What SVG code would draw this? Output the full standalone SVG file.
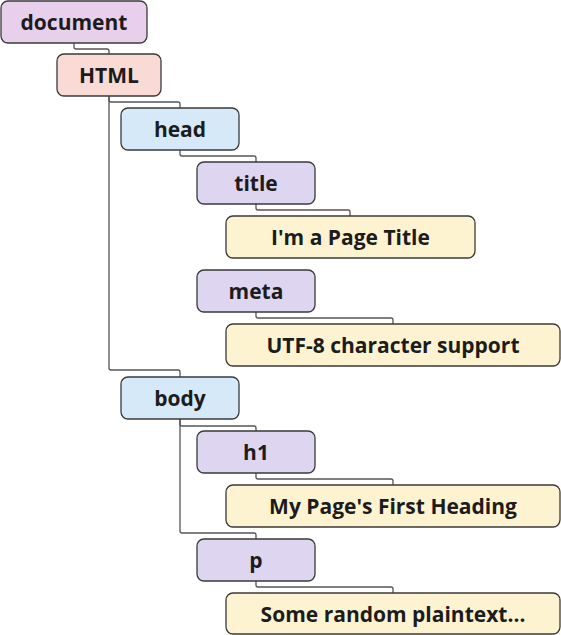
<svg xmlns="http://www.w3.org/2000/svg" width="561" height="635" viewBox="0 0 561 635">
<style>
.box{stroke:#3a3a3a;stroke-width:1.3}
.doc{fill:#E8D0EC}
.html{fill:#FADAD5}
.sec{fill:#D6E9F9}
.el{fill:#DED5F0}
.txt{fill:#FEF3D0}
text{font-family:"Open Sans","Noto Sans",sans-serif;font-weight:700;font-size:21px;fill:#1c1c1c;text-anchor:middle}
.conn path{fill:none;stroke:#555;stroke-width:1.3}
</style>
<rect width="561" height="635" fill="#fff"/>
<g class="conn">
<path d="M74 43 V47 Q74 49 76 49 H107 Q109 49 109 51 V54"/>
<path d="M109 96 V100 Q109 102 111 102 H178 Q180 102 180 104 V108"/>
<path d="M109 96 V368 Q109 370 111 370 H178 Q180 370 180 372 V377"/>
<path d="M180 150 V154 Q180 156 182 156 H254 Q256 156 256 158 V162"/>
<path d="M256 204 V208 Q256 210 258 210 H348 Q350 210 350 212 V216"/>
<path d="M256 312 V316 Q256 318 258 318 H391 Q393 318 393 320 V324"/>
<path d="M180 419 V424 Q180 426 182 426 H254 Q256 426 256 428 V431"/>
<path d="M180 419 V531 Q180 533 182 533 H254 Q256 533 256 535 V539"/>
<path d="M256 473 V477 Q256 479 258 479 H391 Q393 479 393 481 V485"/>
<path d="M256 581 V585 Q256 587 258 587 H391 Q393 587 393 589 V593"/>
</g>
<g id="document"><rect class="box doc" x="1" y="1" width="146" height="42" rx="7"/><text x="74" y="29.5">document</text></g>
<g id="html"><rect class="box html" x="57" y="54" width="104" height="42" rx="7"/><text x="109" y="83">HTML</text></g>
<g id="head"><rect class="box sec" x="121" y="108" width="118" height="42" rx="7"/><text x="180" y="137">head</text></g>
<g id="title"><rect class="box el" x="197" y="162" width="118" height="42" rx="7"/><text x="256" y="191">title</text></g>
<g id="title-text"><rect class="box txt" x="226" y="216" width="249" height="42" rx="7"/><text x="350.5" y="245">I'm a Page Title</text></g>
<g id="meta"><rect class="box el" x="197" y="270" width="118" height="42" rx="7"/><text x="256" y="299">meta</text></g>
<g id="meta-text"><rect class="box txt" x="226" y="324" width="334" height="42" rx="7"/><text x="393" y="353">UTF-8 character support</text></g>
<g id="body"><rect class="box sec" x="121" y="377" width="118" height="42" rx="7"/><text x="180" y="406">body</text></g>
<g id="h1"><rect class="box el" x="197" y="431" width="118" height="42" rx="7"/><text x="256" y="460">h1</text></g>
<g id="h1-text"><rect class="box txt" x="226" y="485" width="334" height="42" rx="7"/><text x="393" y="514">My Page's First Heading</text></g>
<g id="p"><rect class="box el" x="197" y="539" width="118" height="42" rx="7"/><text x="256" y="568">p</text></g>
<g id="p-text"><rect class="box txt" x="226" y="593" width="334" height="41" rx="7"/><text x="393" y="622">Some random plaintext...</text></g>
</svg>
